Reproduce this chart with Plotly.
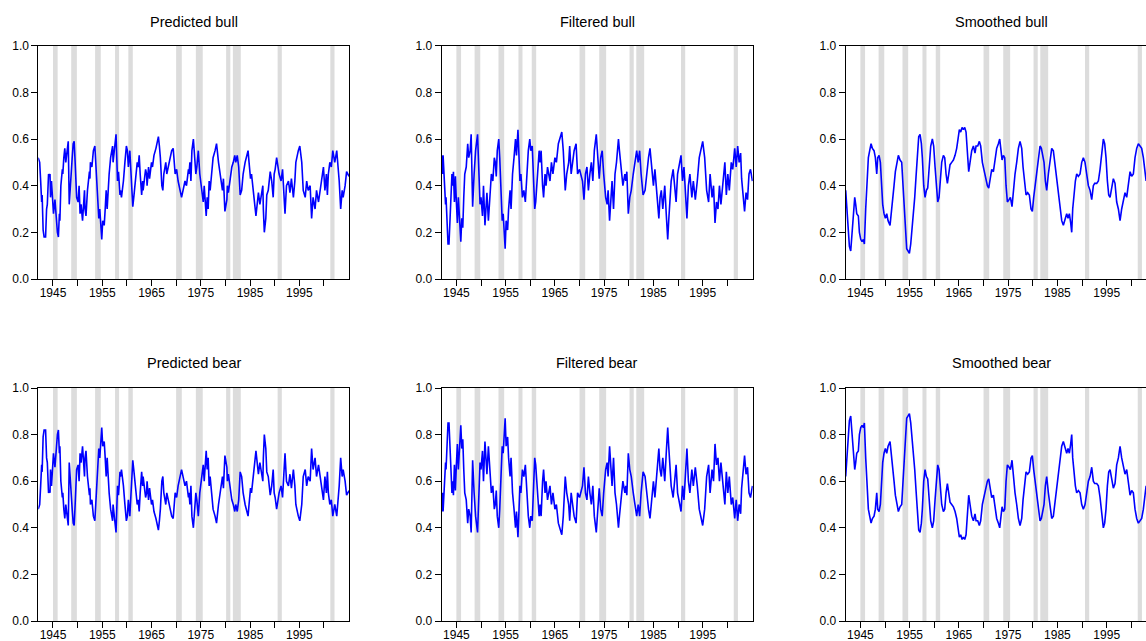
import plotly.graph_objects as go

W, H = 1146, 641

# ---------------- data (decimal year, probability) ----------------
pred_bull = [
    (1942.0, 0.52), (1942.3, 0.50), (1942.5, 0.42), (1942.7, 0.33), (1942.8, 0.36), (1943.0, 0.21),
    (1943.2, 0.18), (1943.5, 0.18), (1943.7, 0.30), (1943.85, 0.32), (1944.1, 0.45), (1944.3, 0.44),
    (1944.4, 0.45), (1944.5, 0.35), (1944.7, 0.42), (1944.9, 0.33), (1945.1, 0.28), (1945.4, 0.34),
    (1945.6, 0.26), (1945.9, 0.20), (1946.1, 0.18), (1946.3, 0.28), (1946.4, 0.25), (1946.6, 0.40),
    (1946.9, 0.47), (1947.0, 0.45), (1947.2, 0.52), (1947.4, 0.56), (1947.6, 0.50), (1947.8, 0.53),
    (1948.1, 0.59), (1948.3, 0.32), (1948.6, 0.45), (1948.9, 0.52), (1949.1, 0.58), (1949.3, 0.59),
    (1949.5, 0.50), (1949.7, 0.40), (1949.8, 0.35), (1950.1, 0.33), (1950.3, 0.40), (1950.5, 0.28),
    (1950.7, 0.32), (1951.0, 0.25), (1951.2, 0.33), (1951.4, 0.38), (1951.5, 0.30), (1951.7, 0.27),
    (1952.0, 0.38), (1952.2, 0.42), (1952.4, 0.46), (1952.5, 0.43), (1952.6, 0.50), (1952.9, 0.48),
    (1953.2, 0.55), (1953.5, 0.57), (1953.7, 0.50), (1954.0, 0.38), (1954.3, 0.26), (1954.5, 0.30),
    (1954.7, 0.22), (1954.9, 0.17), (1955.1, 0.25), (1955.4, 0.23), (1955.6, 0.30), (1955.8, 0.38),
    (1956.0, 0.30), (1956.2, 0.40), (1956.4, 0.45), (1956.7, 0.52), (1957.1, 0.57), (1957.2, 0.50),
    (1957.6, 0.60), (1957.8, 0.62), (1958.1, 0.42), (1958.3, 0.46), (1958.6, 0.36), (1958.7, 0.38),
    (1958.9, 0.35), (1959.3, 0.42), (1959.6, 0.50), (1959.9, 0.57), (1960.1, 0.55), (1960.3, 0.48),
    (1960.6, 0.55), (1961.0, 0.40), (1961.2, 0.31), (1961.4, 0.35), (1961.8, 0.45), (1962.1, 0.50),
    (1962.3, 0.48), (1962.5, 0.53), (1962.7, 0.45), (1963.0, 0.36), (1963.2, 0.42), (1963.3, 0.38),
    (1963.8, 0.47), (1964.0, 0.45), (1964.1, 0.40), (1964.4, 0.48), (1964.6, 0.43), (1965.0, 0.50),
    (1965.2, 0.48), (1965.5, 0.53), (1965.9, 0.56), (1966.4, 0.61), (1966.6, 0.57), (1966.8, 0.52),
    (1967.1, 0.40), (1967.3, 0.38), (1967.5, 0.45), (1967.9, 0.50), (1968.1, 0.45), (1968.4, 0.48),
    (1968.7, 0.52), (1969.1, 0.55), (1969.4, 0.56), (1969.6, 0.50), (1969.8, 0.45), (1970.1, 0.47),
    (1970.4, 0.42), (1971.1, 0.35), (1971.5, 0.40), (1971.8, 0.42), (1972.1, 0.40), (1972.5, 0.47),
    (1972.6, 0.45), (1972.8, 0.50), (1973.0, 0.42), (1973.2, 0.55), (1973.5, 0.60), (1973.8, 0.50),
    (1974.0, 0.45), (1974.2, 0.48), (1974.5, 0.55), (1974.8, 0.45), (1975.2, 0.38), (1975.5, 0.33),
    (1975.7, 0.40), (1975.9, 0.35), (1976.1, 0.27), (1976.3, 0.35), (1976.5, 0.30), (1976.7, 0.42),
    (1976.9, 0.38), (1977.2, 0.45), (1977.5, 0.52), (1977.9, 0.55), (1978.2, 0.58), (1978.6, 0.50),
    (1978.9, 0.45), (1979.2, 0.42), (1979.4, 0.38), (1979.6, 0.43), (1979.9, 0.29), (1980.3, 0.34),
    (1980.4, 0.40), (1980.6, 0.37), (1980.9, 0.42), (1981.3, 0.48), (1981.6, 0.50), (1981.9, 0.53),
    (1982.1, 0.50), (1982.4, 0.53), (1982.7, 0.48), (1983.0, 0.36), (1983.3, 0.38), (1983.6, 0.45),
    (1984.0, 0.50), (1984.3, 0.53), (1984.6, 0.55), (1984.8, 0.50), (1985.1, 0.43), (1985.3, 0.45),
    (1985.5, 0.40), (1985.8, 0.35), (1986.2, 0.27), (1986.5, 0.33), (1986.7, 0.37), (1987.0, 0.32),
    (1987.3, 0.37), (1987.6, 0.40), (1987.7, 0.30), (1987.9, 0.20), (1988.2, 0.26), (1988.4, 0.36),
    (1988.7, 0.38), (1989.1, 0.46), (1989.4, 0.42), (1989.7, 0.35), (1989.9, 0.45), (1990.1, 0.47),
    (1990.4, 0.52), (1990.7, 0.48), (1990.9, 0.45), (1991.3, 0.42), (1991.6, 0.47), (1992.1, 0.28),
    (1992.4, 0.40), (1992.8, 0.42), (1993.1, 0.37), (1993.4, 0.43), (1993.8, 0.35), (1994.1, 0.42),
    (1994.3, 0.50), (1994.8, 0.55), (1995.1, 0.57), (1995.5, 0.50), (1995.8, 0.38), (1996.2, 0.35),
    (1996.5, 0.42), (1996.8, 0.38), (1997.2, 0.40), (1997.5, 0.26), (1997.8, 0.35), (1998.2, 0.30),
    (1998.5, 0.38), (1998.9, 0.33), (1999.2, 0.38), (1999.5, 0.42), (1999.9, 0.48), (2000.2, 0.38),
    (2000.5, 0.45), (2000.7, 0.36), (2000.9, 0.45), (2001.2, 0.50), (2001.5, 0.48), (2001.8, 0.55),
    (2002.2, 0.50), (2002.6, 0.55), (2002.8, 0.50), (2003.1, 0.42), (2003.4, 0.30), (2003.7, 0.38),
    (2003.9, 0.35), (2004.3, 0.40), (2004.6, 0.46), (2005.1, 0.44),
]

filt_bull = [
    (1942.0, 0.53), (1942.2, 0.45), (1942.3, 0.53), (1942.5, 0.42), (1942.8, 0.32), (1942.9, 0.35),
    (1943.1, 0.20), (1943.3, 0.15), (1943.5, 0.15), (1943.7, 0.25), (1943.9, 0.32), (1944.1, 0.45),
    (1944.25, 0.40), (1944.4, 0.46), (1944.6, 0.33), (1944.8, 0.44), (1945.0, 0.33), (1945.2, 0.24),
    (1945.4, 0.35), (1945.6, 0.24), (1945.9, 0.16), (1946.1, 0.26), (1946.3, 0.22), (1946.5, 0.35),
    (1946.7, 0.45), (1947.0, 0.48), (1947.3, 0.58), (1947.5, 0.52), (1947.8, 0.55), (1948.0, 0.62),
    (1948.3, 0.31), (1948.6, 0.45), (1948.9, 0.55), (1949.3, 0.62), (1949.5, 0.50), (1949.8, 0.32),
    (1950.0, 0.35), (1950.3, 0.27), (1950.5, 0.40), (1950.8, 0.23), (1951.0, 0.30), (1951.2, 0.37),
    (1951.5, 0.25), (1951.8, 0.36), (1952.1, 0.45), (1952.4, 0.42), (1952.7, 0.52), (1952.9, 0.50),
    (1953.1, 0.44), (1953.3, 0.55), (1953.6, 0.60), (1953.8, 0.52), (1954.0, 0.40), (1954.3, 0.25),
    (1954.5, 0.28), (1954.7, 0.20), (1954.9, 0.13), (1955.1, 0.25), (1955.4, 0.21), (1955.6, 0.30),
    (1955.9, 0.38), (1956.1, 0.30), (1956.4, 0.45), (1956.7, 0.52), (1957.0, 0.60), (1957.2, 0.53),
    (1957.5, 0.64), (1957.9, 0.42), (1958.1, 0.45), (1958.4, 0.35), (1958.7, 0.38), (1959.0, 0.33),
    (1959.3, 0.45), (1959.6, 0.55), (1959.9, 0.60), (1960.1, 0.55), (1960.4, 0.57), (1960.6, 0.42),
    (1960.9, 0.30), (1961.1, 0.33), (1961.5, 0.45), (1961.8, 0.55), (1962.0, 0.50), (1962.2, 0.55),
    (1962.5, 0.40), (1962.7, 0.35), (1963.0, 0.45), (1963.2, 0.40), (1963.5, 0.48), (1963.7, 0.45),
    (1964.0, 0.42), (1964.3, 0.50), (1964.6, 0.45), (1965.0, 0.52), (1965.3, 0.50), (1965.7, 0.58),
    (1966.0, 0.60), (1966.4, 0.63), (1966.7, 0.55), (1967.1, 0.38), (1967.4, 0.45), (1967.8, 0.50),
    (1968.0, 0.57), (1968.3, 0.45), (1968.6, 0.50), (1968.9, 0.55), (1969.3, 0.58), (1969.6, 0.45),
    (1970.0, 0.47), (1970.3, 0.45), (1970.6, 0.42), (1970.9, 0.34), (1971.2, 0.45), (1971.5, 0.48),
    (1971.8, 0.38), (1972.1, 0.45), (1972.4, 0.50), (1972.7, 0.42), (1973.0, 0.55), (1973.4, 0.62),
    (1973.7, 0.50), (1974.0, 0.43), (1974.3, 0.52), (1974.6, 0.55), (1974.9, 0.45), (1975.3, 0.35),
    (1975.6, 0.32), (1975.8, 0.38), (1976.1, 0.25), (1976.35, 0.33), (1976.6, 0.42), (1976.9, 0.30),
    (1977.2, 0.45), (1977.5, 0.50), (1977.9, 0.60), (1978.1, 0.55), (1978.4, 0.48), (1978.8, 0.40),
    (1979.2, 0.45), (1979.4, 0.42), (1979.6, 0.46), (1979.9, 0.28), (1980.2, 0.35), (1980.5, 0.38),
    (1980.9, 0.45), (1981.2, 0.50), (1981.6, 0.55), (1981.9, 0.50), (1982.2, 0.55), (1982.5, 0.45),
    (1982.9, 0.36), (1983.3, 0.38), (1983.6, 0.45), (1984.0, 0.52), (1984.3, 0.56), (1984.7, 0.48),
    (1985.0, 0.40), (1985.3, 0.47), (1985.7, 0.35), (1986.1, 0.26), (1986.35, 0.35), (1986.6, 0.38),
    (1986.9, 0.30), (1987.3, 0.40), (1987.6, 0.28), (1987.9, 0.17), (1988.1, 0.25), (1988.35, 0.35),
    (1988.6, 0.42), (1989.0, 0.47), (1989.3, 0.40), (1989.6, 0.33), (1989.9, 0.45), (1990.3, 0.50),
    (1990.6, 0.53), (1990.9, 0.42), (1991.2, 0.48), (1991.8, 0.26), (1992.1, 0.40), (1992.4, 0.45),
    (1992.8, 0.35), (1993.1, 0.42), (1993.5, 0.34), (1993.9, 0.42), (1994.3, 0.52), (1994.7, 0.56),
    (1995.0, 0.59), (1995.4, 0.52), (1995.8, 0.38), (1996.2, 0.33), (1996.5, 0.45), (1996.9, 0.35),
    (1997.2, 0.40), (1997.5, 0.24), (1997.8, 0.33), (1998.1, 0.30), (1998.4, 0.40), (1998.7, 0.32),
    (1999.1, 0.42), (1999.5, 0.50), (1999.8, 0.36), (2000.1, 0.45), (2000.4, 0.38), (2000.8, 0.50),
    (2001.1, 0.47), (2001.5, 0.56), (2001.8, 0.48), (2002.1, 0.57), (2002.4, 0.50), (2002.7, 0.54),
    (2002.9, 0.43), (2003.2, 0.35), (2003.5, 0.29), (2003.8, 0.37), (2004.1, 0.34), (2004.4, 0.45),
    (2004.7, 0.47), (2005.1, 0.42),
]

smooth_bull = [
    (1942.02, 0.38), (1942.23, 0.32), (1942.5, 0.22), (1942.77, 0.14), (1943.04, 0.12), (1943.31, 0.20),
    (1943.58, 0.30), (1943.85, 0.35), (1944.05, 0.32), (1944.26, 0.28), (1944.59, 0.27), (1944.8, 0.20),
    (1945.07, 0.17), (1945.34, 0.16), (1945.61, 0.17), (1945.81, 0.15), (1946.08, 0.30), (1946.35, 0.40),
    (1946.62, 0.52), (1946.89, 0.55), (1947.17, 0.58), (1947.44, 0.56), (1947.77, 0.55), (1948.04, 0.52),
    (1948.32, 0.45), (1948.52, 0.52), (1948.79, 0.53), (1949.06, 0.50), (1949.26, 0.42), (1949.53, 0.32),
    (1949.8, 0.28), (1950.07, 0.26), (1950.35, 0.28), (1950.62, 0.25), (1951.02, 0.23), (1951.29, 0.28),
    (1951.56, 0.33), (1951.83, 0.40), (1952.1, 0.46), (1952.37, 0.50), (1952.71, 0.53), (1953.05, 0.51),
    (1953.39, 0.50), (1953.66, 0.40), (1953.93, 0.28), (1954.2, 0.18), (1954.4, 0.13), (1954.68, 0.12),
    (1954.95, 0.11), (1955.22, 0.15), (1955.49, 0.22), (1955.76, 0.26), (1956.03, 0.35), (1956.3, 0.44),
    (1956.57, 0.55), (1956.84, 0.61), (1957.11, 0.62), (1957.38, 0.58), (1957.58, 0.52), (1957.86, 0.40),
    (1958.13, 0.35), (1958.4, 0.38), (1958.67, 0.39), (1959.0, 0.50), (1959.28, 0.57), (1959.61, 0.60),
    (1959.88, 0.57), (1960.16, 0.48), (1960.43, 0.40), (1960.7, 0.33), (1960.97, 0.35), (1961.24, 0.45),
    (1961.51, 0.50), (1961.85, 0.53), (1962.12, 0.52), (1962.39, 0.45), (1962.66, 0.41), (1962.93, 0.45),
    (1963.2, 0.49), (1963.54, 0.50), (1963.88, 0.51), (1964.22, 0.53), (1964.55, 0.56), (1964.82, 0.60),
    (1965.09, 0.64), (1965.37, 0.63), (1965.64, 0.65), (1965.91, 0.64), (1966.18, 0.65), (1966.45, 0.63),
    (1966.72, 0.55), (1966.99, 0.46), (1967.26, 0.50), (1967.6, 0.55), (1967.94, 0.57), (1968.27, 0.54),
    (1968.48, 0.57), (1968.82, 0.57), (1969.15, 0.59), (1969.42, 0.57), (1969.76, 0.50), (1970.1, 0.47),
    (1970.44, 0.44), (1970.78, 0.40), (1971.05, 0.39), (1971.32, 0.42), (1971.66, 0.47), (1972.0, 0.46),
    (1972.33, 0.52), (1972.67, 0.56), (1973.01, 0.58), (1973.28, 0.60), (1973.55, 0.55), (1973.76, 0.51),
    (1974.03, 0.53), (1974.3, 0.52), (1974.57, 0.40), (1974.84, 0.33), (1975.18, 0.34), (1975.45, 0.35),
    (1975.78, 0.31), (1976.06, 0.38), (1976.39, 0.45), (1976.73, 0.50), (1977.07, 0.56), (1977.41, 0.59),
    (1977.75, 0.56), (1978.02, 0.48), (1978.36, 0.40), (1978.63, 0.36), (1978.96, 0.37), (1979.3, 0.36),
    (1979.64, 0.30), (1979.91, 0.29), (1980.18, 0.35), (1980.45, 0.40), (1980.79, 0.47), (1981.13, 0.53),
    (1981.47, 0.57), (1981.74, 0.56), (1982.01, 0.53), (1982.28, 0.50), (1982.55, 0.42), (1982.82, 0.38),
    (1983.16, 0.45), (1983.5, 0.52), (1983.84, 0.56), (1984.17, 0.55), (1984.51, 0.50), (1984.85, 0.43),
    (1985.19, 0.37), (1985.53, 0.32), (1985.87, 0.25), (1986.2, 0.23), (1986.54, 0.26), (1986.88, 0.28),
    (1987.15, 0.26), (1987.42, 0.28), (1987.69, 0.24), (1987.9, 0.20), (1988.1, 0.30), (1988.37, 0.38),
    (1988.64, 0.42), (1988.91, 0.45), (1989.25, 0.44), (1989.59, 0.45), (1989.93, 0.50), (1990.26, 0.52),
    (1990.6, 0.50), (1990.94, 0.45), (1991.28, 0.40), (1991.62, 0.38), (1991.96, 0.34), (1992.29, 0.40),
    (1992.56, 0.41), (1992.97, 0.41), (1993.31, 0.42), (1993.65, 0.47), (1993.99, 0.55), (1994.32, 0.60),
    (1994.59, 0.58), (1994.86, 0.52), (1995.14, 0.42), (1995.41, 0.36), (1995.68, 0.35), (1996.01, 0.40),
    (1996.35, 0.43), (1996.69, 0.41), (1997.03, 0.33), (1997.37, 0.30), (1997.71, 0.25), (1998.04, 0.30),
    (1998.38, 0.34), (1998.72, 0.37), (1999.06, 0.35), (1999.4, 0.40), (1999.74, 0.46), (2000.07, 0.44),
    (2000.41, 0.45), (2000.75, 0.52), (2001.09, 0.56), (2001.43, 0.58), (2001.77, 0.57), (2002.1, 0.56),
    (2002.44, 0.52), (2002.78, 0.44), (2003.0, 0.42),
]

# bear regime probability is the complement of the bull regime probability
pred_bear = [(t, round(1 - v, 3)) for t, v in pred_bull]
filt_bear = [(t, round(1 - v, 3)) for t, v in filt_bull]
smooth_bear = [(t, round(1 - v, 3)) for t, v in smooth_bull]

# shaded recession periods (decimal years)
recessions = [
    (1945.0, 1945.95), (1948.7, 1949.85), (1953.55, 1954.7), (1957.6, 1958.42),
    (1960.3, 1961.2), (1970.0, 1971.15), (1974.0, 1975.4), (1980.15, 1981.0),
    (1981.52, 1983.12), (1990.6, 1991.45), (2001.3, 2002.15),
]

titles = ["Predicted bull", "Filtered bull", "Smoothed bull",
          "Predicted bear", "Filtered bear", "Smoothed bear"]
series = [pred_bull, filt_bull, smooth_bull, pred_bear, filt_bear, smooth_bear]

year_ticks = list(range(1945, 2005, 5))
year_labels = [str(y) if (y - 1945) % 10 == 0 else "" for y in year_ticks]
prob_ticks = [0.0, 0.2, 0.4, 0.6, 0.8, 1.0]
prob_labels = ["0.0", "0.2", "0.4", "0.6", "0.8", "1.0"]

# ---------------- geometry ----------------
x_start, x_end = 1942.02, 2005.15
panel_w = 311.0
col_px = [38.3, 441.7, 845.7]
row_px = [(45.7, 279.0), (388.0, 621.0)]
title_y_px = [22.0, 363.0]
px_per_year = panel_w / (x_end - x_start)

FONT = "Liberation Sans, Arial, sans-serif"

fig = go.Figure()
layout = dict(
    width=W, height=H, autosize=False,
    margin=dict(l=0, r=0, t=0, b=0, pad=0, autoexpand=False),
    paper_bgcolor="white", plot_bgcolor="white", showlegend=False,
    font=dict(family=FONT, color="black"),
)
shapes = []
annotations = []

for i, (title, data) in enumerate(zip(titles, series)):
    r, c = divmod(i, 3)
    k = i + 1
    xs = "" if k == 1 else str(k)
    left = col_px[c]
    right = left + panel_w
    x_hi = x_end
    if right > W:
        x_hi = x_start + (W - left) / px_per_year
        right = W
    top, bot = row_px[r]
    xdom = [left / W, right / W]
    ydom = [1 - bot / H, 1 - top / H]

    t = [p[0] for p in data]
    v = [p[1] for p in data]
    fig.add_trace(go.Scatter(
        x=t, y=v, mode="lines", line=dict(color="#0000FF", width=1.6),
        xaxis="x" + xs, yaxis="y" + xs, hoverinfo="skip", showlegend=False,
    ))

    layout["xaxis" + xs] = dict(
        domain=xdom, range=[x_start, x_hi], anchor="y" + xs, automargin=False,
        tickmode="array", tickvals=year_ticks, ticktext=year_labels,
        ticks="outside", ticklen=6, tickwidth=1, tickcolor="black",
        ticklabelstandoff=-3,
        showline=True, linecolor="black", linewidth=1, mirror=True,
        showgrid=False, zeroline=False,
        tickfont=dict(family=FONT, size=12, color="black"),
    )
    layout["yaxis" + xs] = dict(
        domain=ydom, range=[0, 1], anchor="x" + xs, automargin=False,
        tickmode="array", tickvals=prob_ticks, ticktext=prob_labels,
        ticks="outside", ticklen=6, tickwidth=1, tickcolor="black",
        showline=True, linecolor="black", linewidth=1, mirror=True,
        showgrid=False, zeroline=False,
        tickfont=dict(family=FONT, size=12, color="black"),
    )

    for (a, b) in recessions:
        shapes.append(dict(
            type="rect", xref="x" + xs, yref="y" + xs + " domain",
            x0=a, x1=b, y0=0, y1=1, fillcolor="#DCDCDC",
            line=dict(width=0), layer="below",
        ))

    annotations.append(dict(
        text=title, xref="paper", yref="paper",
        x=(left + panel_w / 2) / W, y=1 - title_y_px[r] / H,
        xanchor="center", yanchor="middle", showarrow=False,
        font=dict(family=FONT, size=14.5, color="black"),
    ))

layout["shapes"] = shapes
layout["annotations"] = annotations
fig.update_layout(**layout)

fig.write_html("out.html")
